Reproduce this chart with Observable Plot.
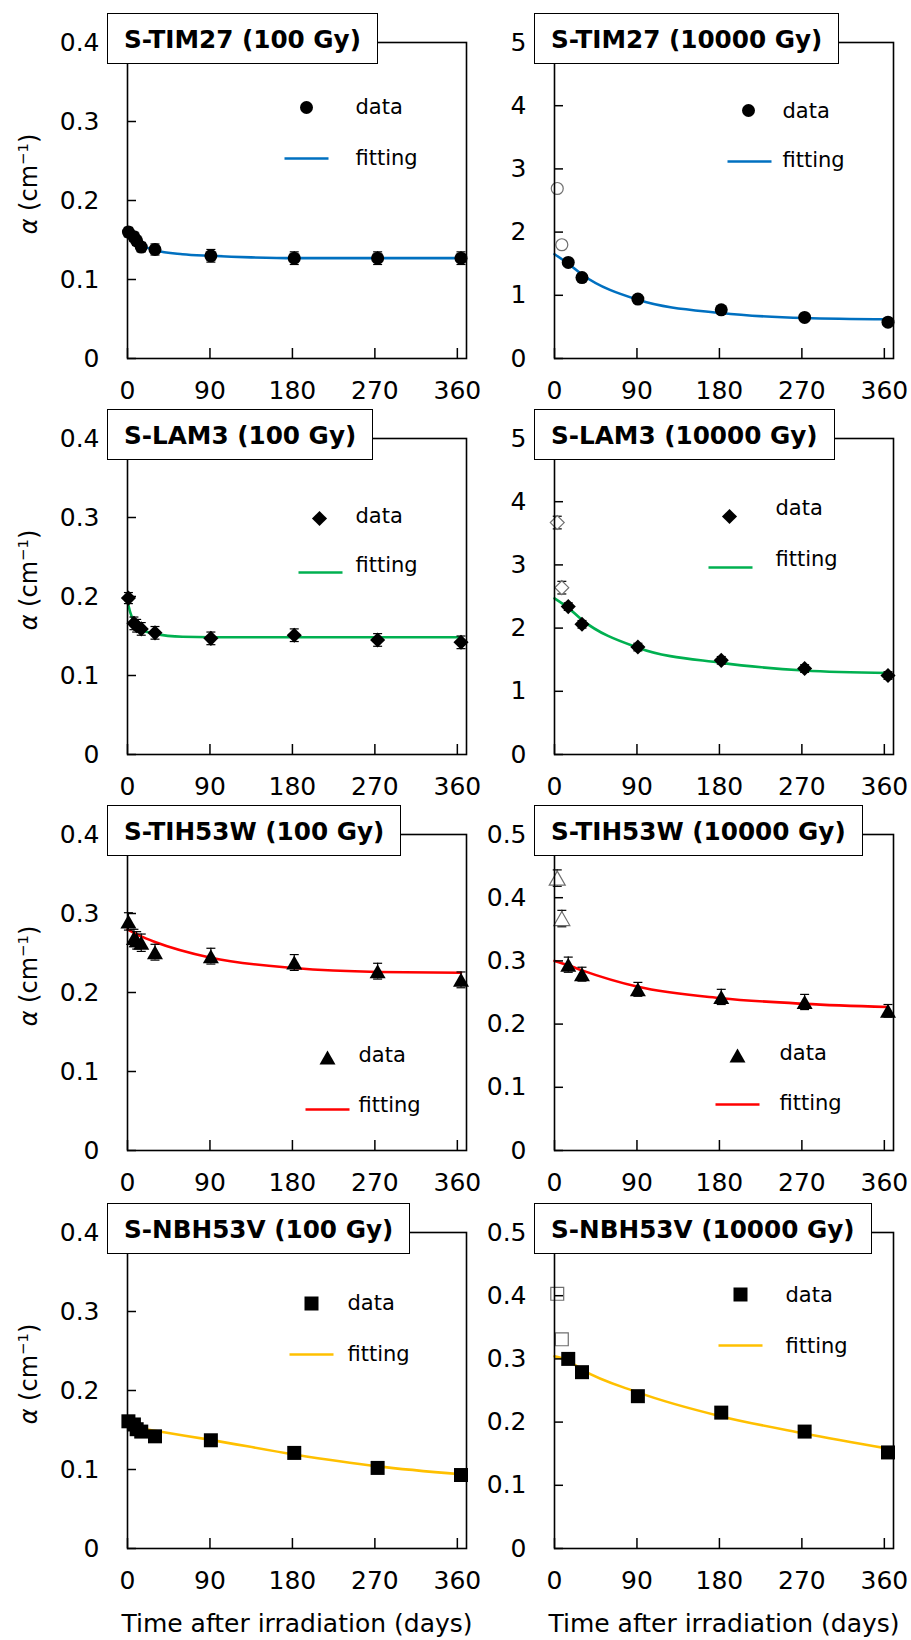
<!DOCTYPE html>
<html><head><meta charset="utf-8">
<script src="https://cdn.jsdelivr.net/npm/d3@7"></script>
<script src="https://cdn.jsdelivr.net/npm/@observablehq/plot@0.6"></script>
<style>
body{margin:0;background:#fff;}
#fig{position:relative;width:911px;height:1640px;background:#fff;font-family:"DejaVu Sans",sans-serif;overflow:hidden;color:#000;}
.title{position:absolute;box-sizing:border-box;height:51px;border:1.5px solid #000;background:#fff;font-weight:bold;font-size:24.7px;line-height:45px;padding:3px 16px 0;white-space:nowrap;z-index:3;}
.ylab{position:absolute;font-size:24px;white-space:nowrap;transform:translate(-50%,-50%) rotate(-90deg);z-index:2;}
.ylab sup{font-size:0.62em;}
</style></head><body><div id="fig"></div>
<script>
// ---------- tick values & labels ----------
const xTicks = [0, 90, 180, 270, 360];
const xTickLabels = ["0", "90", "180", "270", "360"];
const yTicksLow = [0, 0.1, 0.2, 0.3, 0.4];
const yTickLabelsLow = ["0", "0.1", "0.2", "0.3", "0.4"];
const yTicksHigh = [0, 1, 2, 3, 4, 5];
const yTickLabelsHigh = ["0", "1", "2", "3", "4", "5"];
const yTicksMid = [0, 0.1, 0.2, 0.3, 0.4, 0.5];
const yTickLabelsMid = ["0", "0.1", "0.2", "0.3", "0.4", "0.5"];
const panelTitles = ["S-TIM27 (100 Gy)", "S-TIM27 (10000 Gy)", "S-LAM3 (100 Gy)", "S-LAM3 (10000 Gy)",
  "S-TIH53W (100 Gy)", "S-TIH53W (10000 Gy)", "S-NBH53V (100 Gy)", "S-NBH53V (10000 Gy)"];
const legendLabels = ["data", "fitting"];
const xAxisLabel = "Time after irradiation (days)";
const yAxisSymbol = "α";
const yAxisUnit = "(cm";
const yAxisExp = "−1";

// ---------- S-TIM27 (100 Gy) ----------
const tim27_100_days = [1, 7, 10, 15, 30, 91, 182, 273, 364];
const tim27_100_alpha = [0.160, 0.154, 0.149, 0.141, 0.138, 0.130, 0.127, 0.127, 0.127];
const tim27_100_err = [0.006, 0.006, 0.006, 0.006, 0.007, 0.008, 0.008, 0.008, 0.008];
const tim27_100_open = [0, 0, 0, 0, 0, 0, 0, 0, 0];
const tim27_100_fitDays = [0, 7, 15, 30, 60, 91, 135, 182, 273, 364];
const tim27_100_fit = [0.158, 0.151, 0.144, 0.137, 0.132, 0.130, 0.128, 0.127, 0.127, 0.127];
// ---------- S-TIM27 (10000 Gy) ----------
const tim27_10k_days = [3, 8, 15, 30, 91, 182, 273, 364];
const tim27_10k_alpha = [2.69, 1.80, 1.52, 1.28, 0.94, 0.77, 0.65, 0.575];
const tim27_10k_err = [0.04, 0.04, 0.04, 0.04, 0.04, 0.04, 0.04, 0.04];
const tim27_10k_open = [1, 1, 0, 0, 0, 0, 0, 0];
const tim27_10k_fitDays = [0, 15, 30, 91, 182, 273, 364];
const tim27_10k_fit = [1.65, 1.50, 1.33, 0.93, 0.72, 0.64, 0.62];
// ---------- S-LAM3 (100 Gy) ----------
const lam3_100_days = [1, 7, 10, 15, 30, 91, 182, 273, 364];
const lam3_100_alpha = [0.198, 0.166, 0.163, 0.159, 0.154, 0.147, 0.151, 0.145, 0.142];
const lam3_100_err = [0.007, 0.008, 0.008, 0.008, 0.008, 0.008, 0.008, 0.008, 0.008];
const lam3_100_open = [0, 0, 0, 0, 0, 0, 0, 0, 0];
const lam3_100_fitDays = [0, 3, 7, 15, 30, 60, 91, 182, 273, 364];
const lam3_100_fit = [0.194, 0.180, 0.168, 0.158, 0.153, 0.149, 0.1485, 0.1485, 0.1485, 0.1485];
// ---------- S-LAM3 (10000 Gy) ----------
const lam3_10k_days = [3, 8, 15, 30, 91, 182, 273, 364];
const lam3_10k_alpha = [3.67, 2.64, 2.34, 2.06, 1.70, 1.49, 1.36, 1.25];
const lam3_10k_err = [0.10, 0.10, 0.06, 0.06, 0.06, 0.06, 0.06, 0.06];
const lam3_10k_open = [1, 1, 0, 0, 0, 0, 0, 0];
const lam3_10k_fitDays = [0, 15, 30, 91, 182, 273, 364];
const lam3_10k_fit = [2.47, 2.32, 2.13, 1.69, 1.45, 1.33, 1.29];
// ---------- S-TIH53W (100 Gy) ----------
const tih_100_days = [1, 7, 10, 15, 30, 91, 182, 273, 364];
const tih_100_alpha = [0.290, 0.269, 0.266, 0.263, 0.251, 0.246, 0.238, 0.227, 0.216];
const tih_100_err = [0.011, 0.011, 0.011, 0.011, 0.010, 0.010, 0.010, 0.010, 0.010];
const tih_100_open = [0, 0, 0, 0, 0, 0, 0, 0, 0];
const tih_100_fitDays = [0, 15, 30, 91, 182, 273, 364];
const tih_100_fit = [0.280, 0.271, 0.264, 0.244, 0.231, 0.226, 0.225];
// ---------- S-TIH53W (10000 Gy) ----------
const tih_10k_days = [3, 8, 15, 30, 91, 182, 273, 364];
const tih_10k_alpha = [0.431, 0.367, 0.294, 0.279, 0.255, 0.243, 0.235, 0.221];
const tih_10k_err = [0.013, 0.013, 0.012, 0.011, 0.011, 0.012, 0.012, 0.010];
const tih_10k_open = [1, 1, 0, 0, 0, 0, 0, 0];
const tih_10k_fitDays = [0, 15, 30, 91, 182, 273, 364];
const tih_10k_fit = [0.300, 0.293, 0.285, 0.259, 0.241, 0.232, 0.227];
// ---------- S-NBH53V (100 Gy) ----------
const nbh_100_days = [1, 7, 10, 15, 30, 91, 182, 273, 364];
const nbh_100_alpha = [0.161, 0.157, 0.151, 0.148, 0.142, 0.137, 0.121, 0.102, 0.093];
const nbh_100_err = [0.004, 0.004, 0.004, 0.004, 0.004, 0.004, 0.004, 0.004, 0.004];
const nbh_100_open = [0, 0, 0, 0, 0, 0, 0, 0, 0];
const nbh_100_fitDays = [0, 15, 30, 91, 182, 273, 364];
const nbh_100_fit = [0.154, 0.152, 0.149, 0.1375, 0.119, 0.104, 0.094];
// ---------- S-NBH53V (10000 Gy) ----------
const nbh_10k_days = [3, 8, 15, 30, 91, 182, 273, 364];
const nbh_10k_alpha = [0.403, 0.331, 0.300, 0.279, 0.241, 0.215, 0.185, 0.152];
const nbh_10k_err = [0.005, 0.004, 0.004, 0.004, 0.004, 0.004, 0.004, 0.004];
const nbh_10k_open = [1, 1, 0, 0, 0, 0, 0, 0];
const nbh_10k_fitDays = [0, 15, 30, 91, 182, 273, 364];
const nbh_10k_fit = [0.304, 0.297, 0.283, 0.247, 0.209, 0.182, 0.158];

// ---------- custom symbols ----------
const hline = (w) => ({draw(ctx) { ctx.moveTo(-w, 0); ctx.lineTo(w, 0); }});
const triangleBox = (w, h) => ({draw(ctx) { ctx.moveTo(0, -h / 2); ctx.lineTo(w / 2, h / 2); ctx.lineTo(-w / 2, h / 2); ctx.closePath(); }});

const markers = {
  circle: {symbol: "circle", r: 6.5},
  diamond: {symbol: "diamond2", r: 6.8},
  triangle: {symbol: triangleBox(16, 14), r: 7},
  square: {symbol: "square", r: 7.9}
};

// ---------- layout ----------
const rowTop = [0, 396, 792, 1190];
const frameH = 316, mTop = 42;
const cols = [
  {left: 0, width: 470, mLeft: 127, mRight: 4},
  {left: 470, width: 441, mLeft: 84, mRight: 18}
];

const panels = [
  {days: tim27_100_days, alpha: tim27_100_alpha, err: tim27_100_err, open: tim27_100_open, fitDays: tim27_100_fitDays, fit: tim27_100_fit,
   yTicks: yTicksLow, yLabels: yTickLabelsLow, color: "#0070C0", marker: "circle",
   legend: {anchor: "top-right", dot: [-160, 65], text: [-111, 65], line: [-160, 116], text2: [-111, 116]}},
  {days: tim27_10k_days, alpha: tim27_10k_alpha, err: tim27_10k_err, open: tim27_10k_open, fitDays: tim27_10k_fitDays, fit: tim27_10k_fit,
   yTicks: yTicksHigh, yLabels: yTickLabelsHigh, color: "#0070C0", marker: "circle",
   legend: {anchor: "top-right", dot: [-145, 68], text: [-111, 69], line: [-144, 119], text2: [-111, 118]}},
  {days: lam3_100_days, alpha: lam3_100_alpha, err: lam3_100_err, open: lam3_100_open, fitDays: lam3_100_fitDays, fit: lam3_100_fit,
   yTicks: yTicksLow, yLabels: yTickLabelsLow, color: "#00B050", marker: "diamond",
   legend: {anchor: "top-right", dot: [-147, 80], text: [-111, 78], line: [-146, 134], text2: [-111, 127]}},
  {days: lam3_10k_days, alpha: lam3_10k_alpha, err: lam3_10k_err, open: lam3_10k_open, fitDays: lam3_10k_fitDays, fit: lam3_10k_fit,
   yTicks: yTicksHigh, yLabels: yTickLabelsHigh, color: "#00B050", marker: "diamond",
   legend: {anchor: "top-right", dot: [-164, 78], text: [-118, 70], line: [-163, 129], text2: [-118, 121]}},
  {days: tih_100_days, alpha: tih_100_alpha, err: tih_100_err, open: tih_100_open, fitDays: tih_100_fitDays, fit: tih_100_fit,
   yTicks: yTicksLow, yLabels: yTickLabelsLow, color: "#FF0000", marker: "triangle",
   legend: {anchor: "bottom-right", dot: [-139, -93], text: [-108, -95], line: [-139, -41], text2: [-108, -45]}},
  {days: tih_10k_days, alpha: tih_10k_alpha, err: tih_10k_err, open: tih_10k_open, fitDays: tih_10k_fitDays, fit: tih_10k_fit,
   yTicks: yTicksMid, yLabels: yTickLabelsMid, color: "#FF0000", marker: "triangle",
   legend: {anchor: "bottom-right", dot: [-156, -95], text: [-114, -97], line: [-156, -46], text2: [-114, -47]}},
  {days: nbh_100_days, alpha: nbh_100_alpha, err: nbh_100_err, open: nbh_100_open, fitDays: nbh_100_fitDays, fit: nbh_100_fit,
   yTicks: yTicksLow, yLabels: yTickLabelsLow, color: "#FFC000", marker: "square",
   legend: {anchor: "top-right", dot: [-155, 71], text: [-119, 71], line: [-155, 122], text2: [-119, 122]}},
  {days: nbh_10k_days, alpha: nbh_10k_alpha, err: nbh_10k_err, open: nbh_10k_open, fitDays: nbh_10k_fitDays, fit: nbh_10k_fit,
   yTicks: yTicksMid, yLabels: yTickLabelsMid, color: "#FFC000", marker: "square",
   legend: {anchor: "top-right", dot: [-153, 62], text: [-108, 63], line: [-153, 113], text2: [-108, 114]}}
];

const fig = document.getElementById("fig");

panels.forEach((p, i) => {
  const row = Math.floor(i / 2), colIdx = i % 2, col = cols[colIdx];
  const last = row === 3;
  const mBottom = last ? 92 : 38;
  const pts = p.days.map((t, k) => ({t, a: p.alpha[k], e: p.err[k], open: p.open[k] === 1}));
  const filled = pts.filter(d => !d.open);
  const hollow = pts.filter(d => d.open);
  const fitPts = p.fitDays.map((t, k) => ({t, a: p.fit[k]}));
  const mk = markers[p.marker];
  const yMax = p.yTicks[p.yTicks.length - 1];
  const L = p.legend;
  const cap = hline(4.5);

  const svg = Plot.plot({
    width: col.width,
    height: mTop + frameH + mBottom,
    marginTop: mTop, marginBottom: mBottom, marginLeft: col.mLeft, marginRight: col.mRight,
    style: "font-family: 'DejaVu Sans', sans-serif; font-size: 25px; overflow: visible; background: transparent; color: #000;",
    x: {domain: [0, 370]},
    y: {domain: [0, yMax]},
    marks: [
      Plot.line(fitPts, {x: "t", y: "a", stroke: p.color, strokeWidth: 2.6, curve: "monotone-x"}),
      Plot.ruleX(pts, {x: "t", y1: d => d.a - d.e, y2: d => d.a + d.e, stroke: "#000", strokeWidth: 1.2}),
      Plot.dot(pts, {x: "t", y: d => d.a + d.e, symbol: cap, r: 1, stroke: "#000", strokeWidth: 1.2, fill: "none"}),
      Plot.dot(pts, {x: "t", y: d => d.a - d.e, symbol: cap, r: 1, stroke: "#000", strokeWidth: 1.2, fill: "none"}),
      Plot.dot(filled, {x: "t", y: "a", symbol: mk.symbol, r: mk.r, fill: "#000", stroke: "none"}),
      Plot.dot(hollow, {x: "t", y: "a", symbol: mk.symbol, r: mk.r * 0.92, fill: "#fff", stroke: "#6f6f6f", strokeWidth: 1.2}),
      Plot.frame({stroke: "#000", strokeWidth: 1.6}),
      Plot.axisY(p.yTicks, {anchor: "left", tickSize: 9, dx: 9, tickFormat: () => "", label: null, strokeWidth: 1.5}),
      Plot.axisY(p.yTicks, {anchor: "left", tickSize: 0, tickPadding: 28, tickFormat: d => p.yLabels[p.yTicks.indexOf(d)], label: null, fontSize: 25}),
      Plot.axisX(xTicks, {anchor: "bottom", tickSize: 10, dy: -10, tickFormat: () => "", label: null, strokeWidth: 1.5}),
      Plot.axisX(xTicks, {anchor: "bottom", tickSize: 0, tickPadding: 23, tickFormat: d => xTickLabels[xTicks.indexOf(d)], fontSize: 25,
        label: last ? xAxisLabel : null, labelAnchor: "center", labelOffset: 83, labelArrow: "none"}),
      // legend
      Plot.dot([0], {frameAnchor: L.anchor, dx: L.dot[0], dy: L.dot[1], symbol: mk.symbol, r: mk.r, fill: "#000", stroke: "none"}),
      Plot.text([legendLabels[0]], {frameAnchor: L.anchor, dx: L.text[0], dy: L.text[1], textAnchor: "start", lineAnchor: "middle", fontSize: 21, fill: "#000"}),
      Plot.dot([0], {frameAnchor: L.anchor, dx: L.line[0], dy: L.line[1], symbol: hline(22), r: 1, stroke: p.color, strokeWidth: 2.6, fill: "none"}),
      Plot.text([legendLabels[1]], {frameAnchor: L.anchor, dx: L.text2[0], dy: L.text2[1], textAnchor: "start", lineAnchor: "middle", fontSize: 21, fill: "#000"})
    ]
  });
  svg.style.position = "absolute";
  svg.style.left = col.left + "px";
  svg.style.top = rowTop[row] + "px";
  svg.style.zIndex = 1;
  fig.appendChild(svg);

  const frameTop = rowTop[row] + mTop;
  const frameLeft = col.left + col.mLeft;
  const t = document.createElement("div");
  t.className = "title";
  t.textContent = panelTitles[i];
  t.style.left = (frameLeft - 20) + "px";
  t.style.top = (frameTop - 29) + "px";
  fig.appendChild(t);

  if (colIdx === 0) {
    const yl = document.createElement("div");
    yl.className = "ylab";
    const it = document.createElement("i");
    it.textContent = yAxisSymbol;
    yl.appendChild(it);
    yl.appendChild(document.createTextNode(" " + yAxisUnit));
    const sup = document.createElement("sup");
    sup.textContent = yAxisExp;
    yl.appendChild(sup);
    yl.appendChild(document.createTextNode(")"));
    yl.style.left = "28px";
    yl.style.top = (frameTop + 142) + "px";
    fig.appendChild(yl);
  }
});
</script>
</body></html>
